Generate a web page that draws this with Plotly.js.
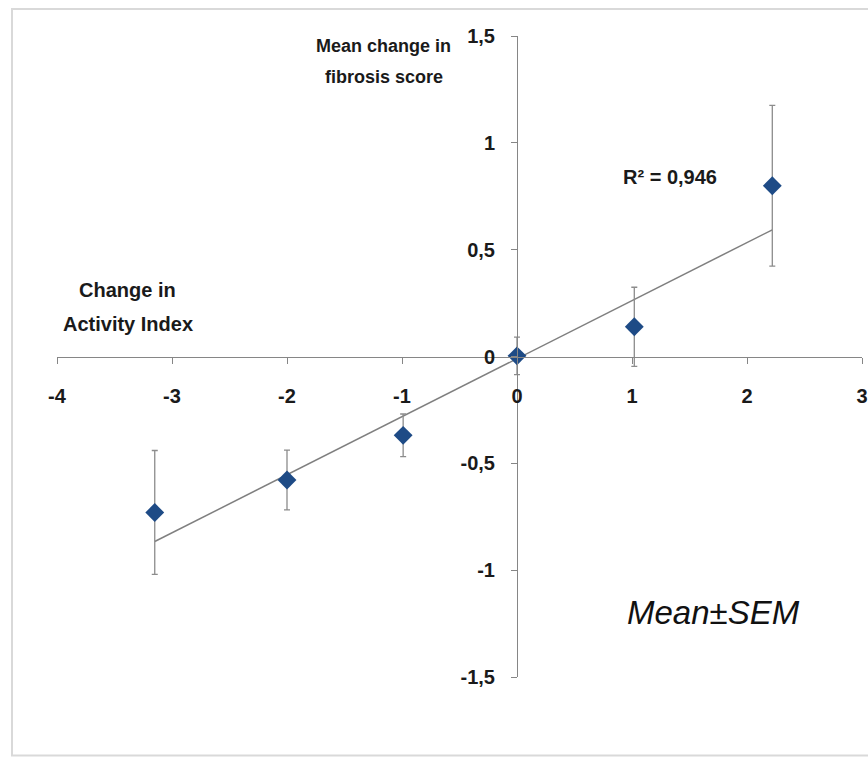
<!DOCTYPE html>
<html><head><meta charset="utf-8">
<script src="https://cdn.plot.ly/plotly-3.0.1.min.js"></script>
<style>html,body{margin:0;padding:0;background:#fff}#chart{width:868px;height:761px}</style>
</head><body><div id="chart"></div>
<script>
// Data
const activityChange = [-3.15, -2.0, -0.99, 0.0, 1.02, 2.22];
const fibrosisMean   = [-0.73, -0.578, -0.369, 0.003, 0.139, 0.799];
const fibrosisSEM    = [0.29, 0.14, 0.10, 0.088, 0.185, 0.376];
const trendX = [-3.15, 2.22];
const trendY = [-0.866, 0.593];
const xTickVals = [-4, -3, -2, -1, 0, 1, 2, 3];
const xTickText = ['-4', '-3', '-2', '-1', '0', '1', '2', '3'];
const yTickVals = [-1.5, -1, -0.5, 0, 0.5, 1, 1.5];
const yTickText = ['-1,5', '-1', '-0,5', '0', '0,5', '1', '1,5'];
const yTitleLines = ['Mean change in', 'fibrosis score'];
const xTitleLines = ['Change in', 'Activity Index'];
const rSquaredText = 'R² = 0,946';
const noteText = 'Mean±SEM';

const FONT = '"Liberation Sans", Arial, sans-serif';
const TXT = '#1a1a1a';
const AXC = '#868686';

const traces = [
  {
    type: 'scatter', mode: 'lines', x: trendX, y: trendY,
    line: {color: '#7f7f7f', width: 1.5}, hoverinfo: 'skip', showlegend: false
  },
  {
    type: 'scatter', mode: 'markers', x: activityChange, y: fibrosisMean,
    marker: {symbol: 'diamond', size: 14.5, color: '#1e4b86', line: {width: 0}},
    error_y: {type: 'data', array: fibrosisSEM, visible: true, color: '#8c8c8c', thickness: 1.3, width: 3},
    showlegend: false, cliponaxis: false
  }
];

function ann(text, x, y, size, extra) {
  return Object.assign({
    x: x, y: y, xref: 'x', yref: 'y', text: text, showarrow: false,
    xanchor: 'center', yanchor: 'middle',
    font: {family: FONT, size: size, color: TXT, weight: 'bold'}
  }, extra || {});
}

const layout = {
  width: 868, height: 761,
  margin: {l: 57, r: 6, t: 36, b: 84, pad: 0},
  paper_bgcolor: '#ffffff', plot_bgcolor: 'rgba(0,0,0,0)',
  font: {family: FONT, color: TXT},
  showlegend: false,
  xaxis: {
    range: [-4, 3], domain: [0, 1], anchor: 'free', position: 0.5,
    showline: true, linecolor: AXC, linewidth: 1.3,
    showgrid: false, zeroline: false,
    ticks: 'outside', ticklen: 6, tickcolor: AXC, tickwidth: 1,
    tickmode: 'array', tickvals: xTickVals, ticktext: xTickText,
    tickfont: {family: FONT, size: 20, color: TXT, weight: 'bold'},
    ticklabelstandoff: 15, ticklabeloverflow: 'allow'
  },
  yaxis: {
    range: [-1.5, 1.5], domain: [0, 1], anchor: 'free', position: 4 / 7,
    showline: true, linecolor: AXC, linewidth: 1.3,
    showgrid: false, zeroline: false,
    ticks: 'outside', ticklen: 6, tickcolor: AXC, tickwidth: 1,
    tickmode: 'array', tickvals: yTickVals, ticktext: yTickText,
    tickfont: {family: FONT, size: 20, color: TXT, weight: 'bold'},
    ticklabelstandoff: 12, ticklabeloverflow: 'allow'
  },
  shapes: [{
    type: 'rect', xref: 'paper', yref: 'paper',
    x0: -0.0559, x1: 1.05, y0: -0.1225, y1: 1.0421,
    line: {color: '#d9d9d9', width: 2}, fillcolor: 'rgba(0,0,0,0)', layer: 'below'
  }],
  annotations: [
    ann(yTitleLines[0], -1.157, 1.454, 18),
    ann(yTitleLines[1], -1.157, 1.31, 18),
    ann(xTitleLines[0], -3.383, 0.313, 20),
    ann(xTitleLines[1], -3.383, 0.152, 20),
    ann(rSquaredText, 1.33, 0.84, 20),
    ann(noteText, 1.709, -1.196, 33, {font: {family: FONT, size: 33, color: '#111111', style: 'italic'}})
  ]
};

Plotly.newPlot('chart', traces, layout, {displayModeBar: false, staticPlot: true});
</script>
</body></html>
